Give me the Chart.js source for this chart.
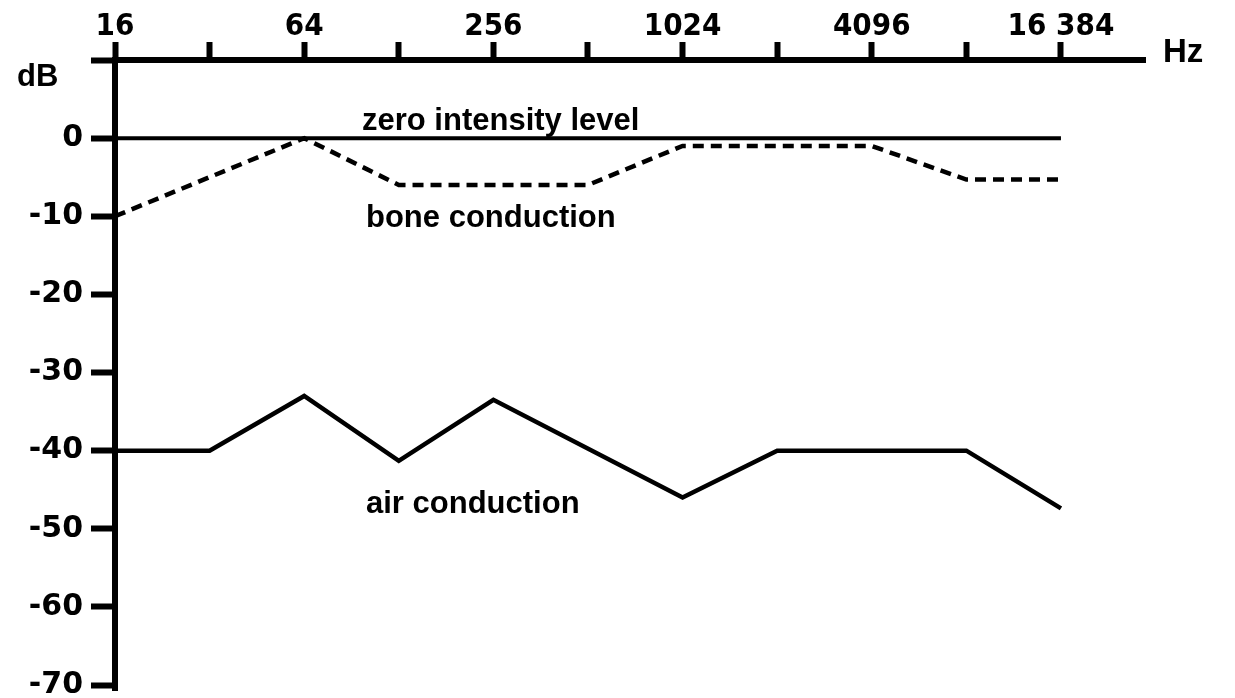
<!DOCTYPE html>
<html>
<head>
<meta charset="utf-8">
<script src="https://cdn.jsdelivr.net/npm/chart.js@4"></script>
<style>
html,body{margin:0;padding:0;background:#ffffff;}
#wrap{width:1235px;height:698px;position:relative;}
</style>
</head>
<body>
<div id="wrap"><canvas id="c" width="1235" height="698"></canvas></div>
<script>
// ---- data ----
const freqTicks = [16, 32, 64, 128, 256, 512, 1024, 2048, 4096, 8192, 16384];
const freqTickLabels = ['16', '', '64', '', '256', '', '1024', '', '4096', '', '16 384'];
const dbTicks = [10, 0, -10, -20, -30, -40, -50, -60, -70];
const dbTickLabels = ['', '0', '-10', '-20', '-30', '-40', '-50', '-60', '-70'];

const zeroFreq = [16, 16384];
const zeroDb = [0, 0];

const boneFreq = [16, 64, 128, 512, 1024, 4096, 8192, 16384];
const boneDb = [-10, 0, -6, -6, -1, -1, -5.3, -5.3];

const airFreq = [16, 32, 64, 128, 256, 1024, 2048, 8192, 16384];
const airDb = [-40, -40, -33, -41.3, -33.5, -46, -40, -40, -47.4];

const seriesNames = ['zero intensity level', 'bone conduction', 'air conduction'];
const unitX = 'Hz';
const unitY = 'dB';

// ---- build ----
const pts = (xs, ys) => xs.map((x, i) => ({x: x, y: ys[i]}));

const textPlugin = {
  id: 'texts',
  afterDraw(chart) {
    const ctx = chart.ctx;
    ctx.save();
    ctx.fillStyle = '#000';
    ctx.textAlign = 'left';
    ctx.textBaseline = 'alphabetic';
    ctx.font = 'bold 31px "Liberation Sans", Arial, sans-serif';
    ctx.fillText(seriesNames[0], 362, 130);
    ctx.fillText(seriesNames[1], 366, 227);
    ctx.fillText(seriesNames[2], 366, 513);
    ctx.font = 'bold 31px "Liberation Sans", Arial, sans-serif';
    ctx.fillText(unitY, 17, 86);
    ctx.font = 'bold 33px "Liberation Sans", Arial, sans-serif';
    ctx.fillText(unitX, 1163, 62);
    ctx.restore();
  }
};

new Chart(document.getElementById('c'), {
  type: 'scatter',
  data: {
    datasets: [
      {label: seriesNames[0], data: pts(zeroFreq, zeroDb), showLine: true, borderColor: '#000', borderWidth: 4, pointRadius: 0, pointHoverRadius: 0},
      {label: seriesNames[1], data: pts(boneFreq, boneDb), showLine: true, borderColor: '#000', borderWidth: 4.5, borderDash: [11, 7], pointRadius: 0, pointHoverRadius: 0, borderJoinStyle: 'miter'},
      {label: seriesNames[2], data: pts(airFreq, airDb), showLine: true, borderColor: '#000', borderWidth: 4.5, pointRadius: 0, pointHoverRadius: 0, borderJoinStyle: 'miter'}
    ]
  },
  options: {
    responsive: false,
    devicePixelRatio: 1,
    animation: false,
    layout: {padding: {left: 0, top: 0, right: 90, bottom: 8}},
    plugins: {legend: {display: false}, tooltip: {enabled: false}},
    scales: {
      x: {
        type: 'logarithmic',
        position: 'top',
        min: 16,
        max: 30330,
        afterBuildTicks: s => { s.ticks = freqTicks.map(v => ({value: v})); },
        afterFit: s => { s.height = 60; s.paddingLeft = 0; s.paddingRight = 0; },
        ticks: {
          autoSkip: false,
          maxRotation: 0,
          minRotation: 0,
          padding: -4,
          color: '#000',
          font: {family: '"DejaVu Sans Condensed", "DejaVu Sans", sans-serif', size: 31, weight: 'bold'},
          callback: v => { const i = freqTicks.indexOf(v); return i >= 0 ? freqTickLabels[i] : ''; }
        },
        grid: {drawOnChartArea: false, drawTicks: true, tickLength: 18, tickWidth: 6, tickColor: '#000'},
        border: {display: true, width: 6, color: '#000'}
      },
      y: {
        type: 'linear',
        min: -70.64,
        max: 10,
        afterBuildTicks: s => { s.ticks = dbTicks.map(v => ({value: v})); },
        afterFit: s => { s.width = 115; s.paddingTop = 0; s.paddingBottom = 0; },
        ticks: {
          autoSkip: false,
          padding: 8,
          color: '#000',
          font: {family: '"DejaVu Sans", sans-serif', size: 30, weight: 'bold'},
          callback: v => { const i = dbTicks.indexOf(v); return i >= 0 ? dbTickLabels[i] : ''; }
        },
        grid: {drawOnChartArea: false, drawTicks: true, tickLength: 24, tickWidth: 6, tickColor: '#000'},
        border: {display: true, width: 6, color: '#000'}
      }
    }
  },
  plugins: [textPlugin]
});
</script>
</body>
</html>
